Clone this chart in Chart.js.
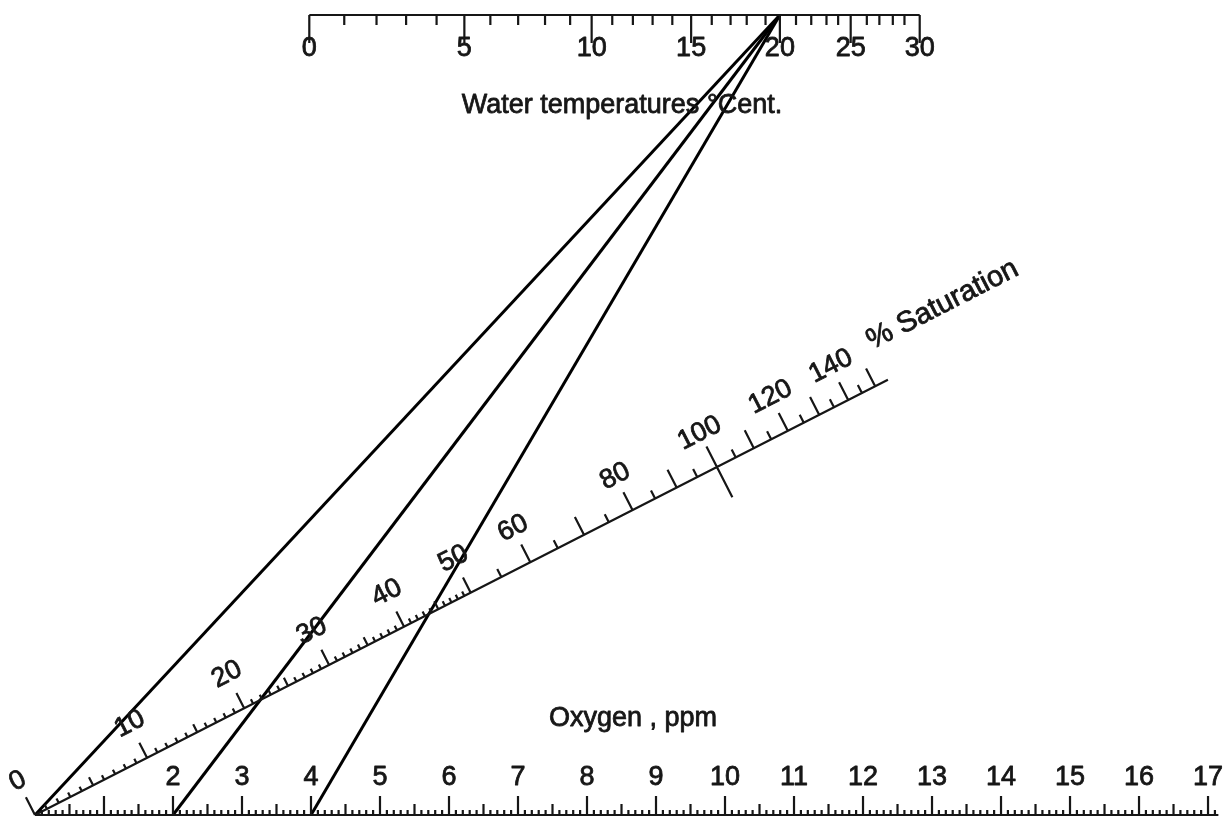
<!DOCTYPE html>
<html>
<head>
<meta charset="utf-8">
<script src="https://cdn.jsdelivr.net/npm/chart.js@4.4.0/dist/chart.umd.min.js"></script>
<style>
  html, body { margin: 0; padding: 0; background: #fff; }
  #wrap { width: 1225px; height: 822px; }
</style>
</head>
<body>
<div id="wrap"><canvas id="chart"></canvas></div>
<script>
// top scale: water temperature and the oxygen (ppm) at 100% saturation it stands for
const tempDegrees = [0, 1, 2, 3, 4, 5, 6, 7, 8, 9, 10, 11, 12, 13, 14, 15, 16, 17, 18, 19, 20, 21, 22, 23, 24, 25, 26, 27, 28, 29, 30];
const tempSatPPM = [14.43, 14.04, 13.68, 13.35, 13.01, 12.70, 12.41, 12.10, 11.80, 11.52, 11.28, 11.05, 10.82, 10.60, 10.38, 10.17,
                    9.94, 9.73, 9.55, 9.34, 9.18, 9.00, 8.83, 8.66, 8.53, 8.39, 8.21, 8.07, 7.92, 7.79, 7.62];
const tempLabels = [0, 5, 10, 15, 20, 25, 30];

// bottom scale: oxygen, ppm
const ppmLabels = [2, 3, 4, 5, 6, 7, 8, 9, 10, 11, 12, 13, 14, 15, 16, 17];
const ppmEnd = 17.15;

// slanted scale: % saturation
const satLabels = [0, 10, 20, 30, 40, 50, 60, 80, 100, 120, 140];
const satEnd = 155;

// the three readings drawn across the chart
const readingPPM = [0, 2, 4];
const readingTemp = [20, 20, 20];

// layout of the nomogram in data units (x = ppm, y: 0 = oxygen line, 1 = temperature line)
const W = 1225, H = 822;
const X_MIN = -0.507, X_MAX = 17.246;
const Y_MIN = -0.00875, Y_MAX = 1.01875;
const pxX = W / (X_MAX - X_MIN);
const pxY = H / (Y_MAX - Y_MIN);
const DIAG_TOP = 22.72;   // where the saturation line would meet the temperature line
const TOP_UNIT = 1.299;   // top scale unit / bottom scale unit

const ink = '#161616';
const font = '"Liberation Sans", Arial, sans-serif';

const topX = c => DIAG_TOP - TOP_UNIT * c;
const satT = pct => (pct / 100) / (pct / 100 + TOP_UNIT);
const satPoint = pct => ({ x: DIAG_TOP * satT(pct), y: satT(pct) });
const tempPPM = deg => tempSatPPM[tempDegrees.indexOf(deg)];

const ang = Math.atan2(pxY, DIAG_TOP * pxX);          // slope of the saturation line on screen
const nx = -Math.sin(ang), ny = -Math.cos(ang);       // screen normal, up and left
const tx = Math.cos(ang), ty = -Math.sin(ang);        // screen tangent

const gap = { x: null, y: null };

// temperature line with ticks
const topPts = [{ x: topX(tempSatPPM[0]), y: 1 }, { x: topX(tempSatPPM[tempSatPPM.length - 1]), y: 1 }, gap];
tempDegrees.forEach((d, i) => {
  const len = d % 5 === 0 ? 28 : 10;
  const x = topX(tempSatPPM[i]);
  topPts.push({ x, y: 1 }, { x, y: 1 - len / pxY }, gap);
});

// oxygen line with ticks
const botPts = [{ x: 0, y: 0 }, { x: ppmEnd, y: 0 }, gap];
for (let k = 1; k <= Math.floor(ppmEnd * 10); k++) {
  const len = k % 10 === 0 ? 19 : k % 5 === 0 ? 11 : 5;
  botPts.push({ x: k / 10, y: 0 }, { x: k / 10, y: len / pxY }, gap);
}

// saturation line with ticks
const satPts = [satPoint(0), satPoint(satEnd), gap];
const satTicks = [];
for (let p = 0; p <= 50; p++) satTicks.push(p);
for (let p = 55; p <= 150; p += 5) satTicks.push(p);
satTicks.forEach(p => {
  let up, down = 0;
  if (p <= 50) up = p === 0 ? 20 : p % 10 === 0 ? 17 : p % 5 === 0 ? 9 : 5;
  else up = p % 10 === 0 ? 20 : 9;
  if (p === 100) { up = 23; down = 34; }
  const b = satPoint(p);
  satPts.push(
    { x: b.x - nx * down / pxX, y: b.y + ny * down / pxY },
    { x: b.x + nx * up / pxX, y: b.y - ny * up / pxY },
    gap
  );
});

const scaleSet = (data, width) => ({
  data, showLine: true, spanGaps: false, borderColor: ink, borderWidth: width,
  pointRadius: 0, borderCapStyle: 'butt'
});

const datasets = [scaleSet(topPts, 2.2), scaleSet(botPts, 2.2), scaleSet(satPts, 2.2)];
readingPPM.forEach((p, i) => {
  datasets.push({
    data: [{ x: p, y: 0 }, { x: topX(tempPPM(readingTemp[i])), y: 1 }],
    showLine: true, borderColor: '#000', borderWidth: 3, pointRadius: 0
  });
});

// heavier text, like the scanned original
function ink2(ctx, s, x, y) {
  ctx.strokeText(s, x, y);
  ctx.fillText(s, x, y);
}

const labels = {
  id: 'labels',
  afterDatasetsDraw(chart) {
    const { ctx, scales: { x, y } } = chart;
    ctx.save();
    ctx.fillStyle = ink;
    ctx.strokeStyle = ink;
    ctx.lineWidth = 0.8;
    ctx.lineJoin = 'round';

    ctx.font = `27px ${font}`;
    ctx.textAlign = 'center';
    ctx.textBaseline = 'alphabetic';
    tempLabels.forEach(d => ink2(ctx, String(d), x.getPixelForValue(topX(tempPPM(d))), y.getPixelForValue(1) + 41));
    ppmLabels.forEach(p => ink2(ctx, String(p), x.getPixelForValue(p), y.getPixelForValue(0) - 30));

    ink2(ctx, 'Water temperatures \u00b0Cent.', 622, y.getPixelForValue(1) + 98);
    ink2(ctx, 'Oxygen , ppm', 633, y.getPixelForValue(0) - 89);

    ctx.textBaseline = 'middle';
    satLabels.forEach(p => {
      const b = satPoint(p);
      const px = x.getPixelForValue(b.x) + nx * 38;
      const py = y.getPixelForValue(b.y) + ny * 38;
      ctx.save();
      ctx.translate(px, py);
      ctx.rotate(-ang);
      ink2(ctx, String(p), 0, 0);
      ctx.restore();
    });
    const e = satPoint(148);
    ctx.save();
    ctx.translate(x.getPixelForValue(e.x) + nx * 42 + tx * 20, y.getPixelForValue(e.y) + ny * 42 + ty * 20);
    ctx.rotate(-ang);
    ctx.textAlign = 'left';
    ctx.font = `29px ${font}`;
    ink2(ctx, '% Saturation', 0, 0);
    ctx.restore();

    ctx.restore();
  }
};

new Chart(document.getElementById('chart'), {
  type: 'scatter',
  data: { datasets },
  options: {
    responsive: true,
    maintainAspectRatio: false,
    animation: false,
    layout: { padding: 0 },
    plugins: { legend: { display: false }, tooltip: { enabled: false } },
    scales: {
      x: { type: 'linear', min: X_MIN, max: X_MAX, display: false },
      y: { type: 'linear', min: Y_MIN, max: Y_MAX, display: false }
    }
  },
  plugins: [labels]
});
</script>
</body>
</html>
